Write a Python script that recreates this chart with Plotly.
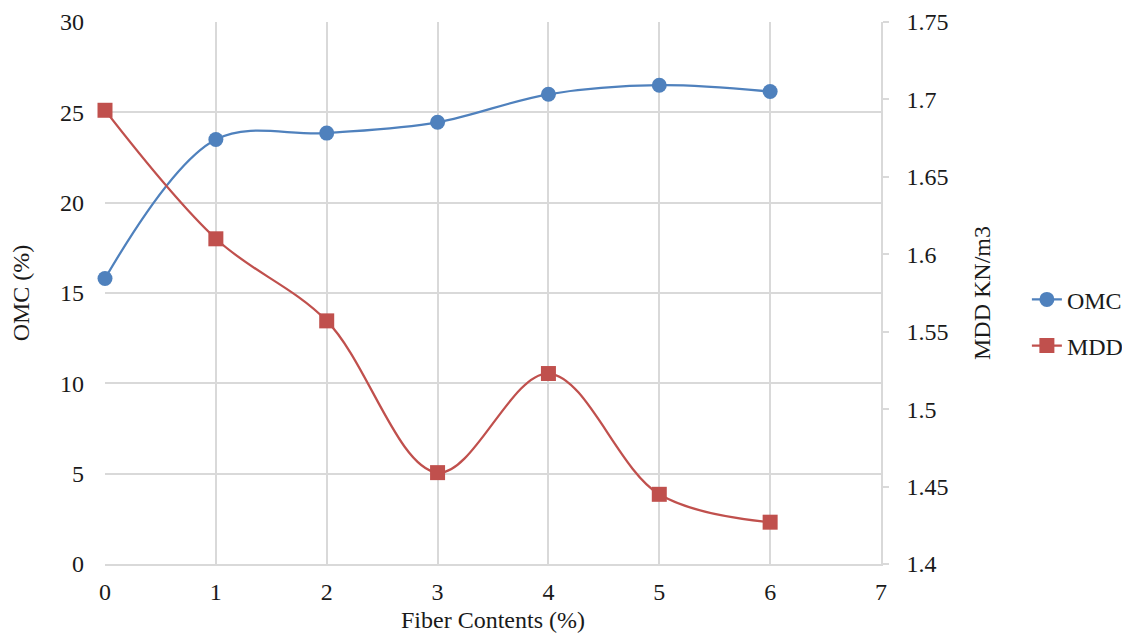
import plotly.graph_objects as go

fiber = [0, 1, 2, 3, 4, 5, 6]
omc = [15.8, 23.5, 23.85, 24.45, 26.0, 26.5, 26.15]
mdd = [1.693, 1.610, 1.557, 1.459, 1.523, 1.445, 1.427]

blue = "#4F81BD"
red = "#C0504D"
font = "Liberation Serif, Times New Roman, serif"
fs = 24

fig = go.Figure()
fig.add_trace(go.Scatter(
    x=fiber, y=omc, name="OMC", mode="lines+markers", legendgroup="a",
    line=dict(color=blue, width=2.25, shape="spline", smoothing=1),
    marker=dict(symbol="circle", size=15, color=blue), cliponaxis=False,
))
fig.add_trace(go.Scatter(
    x=fiber, y=mdd, name="MDD", mode="lines+markers", yaxis="y2", legendgroup="b",
    line=dict(color=red, width=2.25, shape="spline", smoothing=1),
    marker=dict(symbol="square", size=15, color=red), cliponaxis=False,
))

grid = "#D9D9D9"
fig.update_layout(
    width=1130, height=637,
    margin=dict(l=97, r=257, t=14, b=81, autoexpand=False),
    paper_bgcolor="white", plot_bgcolor="white",
    font=dict(family=font, size=fs, color="#1a1a1a"),
    xaxis=dict(
        range=[0, 7], dtick=1, showgrid=True, gridcolor=grid, gridwidth=1.5,
        zeroline=False, showline=True, linecolor=grid, linewidth=1.5,
        ticks="", ticklabelstandoff=5, automargin=False,
        title=dict(text="Fiber Contents (%)", font=dict(size=fs, family=font), standoff=8),
        tickfont=dict(size=fs, family=font),
    ),
    yaxis=dict(
        range=[0, 30], dtick=5, showgrid=True, gridcolor=grid, gridwidth=1.5,
        zeroline=False, showline=False, ticks="", ticklabelstandoff=20, automargin=False,
        title=dict(text="OMC (%)", font=dict(size=fs, family=font), standoff=26),
        tickfont=dict(size=fs, family=font),
    ),
    yaxis2=dict(
        range=[1.4, 1.75], dtick=0.05, overlaying="y", side="right",
        showgrid=False, zeroline=False, showline=True, linecolor=grid, linewidth=1.5,
        ticks="outside", ticklen=6, tickcolor=grid, tickwidth=1.5,
        tickformat="~g", ticklabelstandoff=13, automargin=False,
        title=dict(text="MDD KN/m3", font=dict(size=fs, family=font), standoff=26),
        tickfont=dict(size=fs, family=font),
    ),
    legend=dict(
        x=1.188, y=0.445, xanchor="left", yanchor="middle",
        font=dict(size=fs, family=font), bgcolor="rgba(0,0,0,0)", tracegroupgap=12,
    ),
    showlegend=True,
)

fig.write_html("out.html")
